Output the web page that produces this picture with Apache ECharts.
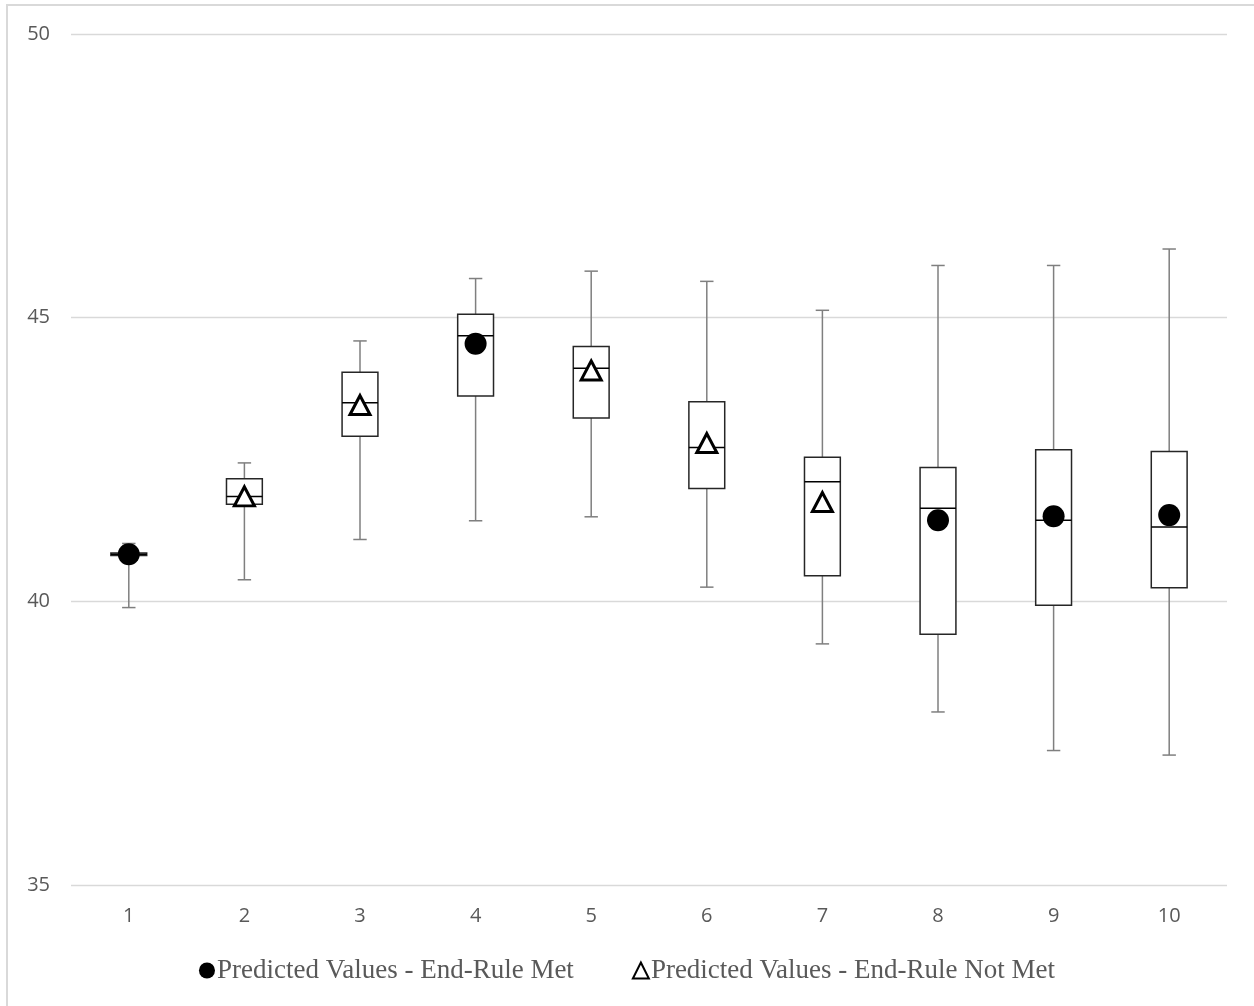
<!DOCTYPE html>
<html>
<head>
<meta charset="utf-8">
<script src="https://cdn.jsdelivr.net/npm/echarts@6/dist/echarts.min.js"></script>
<style>
  html, body { margin: 0; padding: 0; background: #fff; }
  #chart { width: 1254px; height: 1006px; }
</style>
</head>
<body>
<div id="chart"></div>
<script>
// Categories along the x axis
const categories = ['1', '2', '3', '4', '5', '6', '7', '8', '9', '10'];

// Box-and-whisker statistics per category
const whiskerLow  = [39.89, 40.38, 41.09, 41.42, 41.49, 40.25, 39.25, 38.05, 37.37, 37.29];
const quartile1   = [40.81, 41.71, 42.91, 43.62, 43.23, 41.99, 40.45, 39.42, 39.93, 40.24];
const medians     = [40.83, 41.85, 43.50, 44.68, 44.11, 42.71, 42.11, 41.64, 41.43, 41.31];
const quartile3   = [40.85, 42.16, 44.04, 45.06, 44.49, 43.52, 42.54, 42.36, 42.67, 42.64];
const whiskerHigh = [41.02, 42.44, 44.59, 45.69, 45.82, 45.64, 45.13, 45.92, 45.92, 46.21];

// Predicted values, split by whether the end-rule was met
const predictedMet    = [40.83, null, null, 44.54, null, null, null, 41.43, 41.50, 41.52];
const predictedNotMet = [null, 41.85, 43.46, null, 44.07, 42.79, 41.75, null, null, null];

// Y axis ticks
const yTicks = { min: 35, max: 50, interval: 5 };

const seriesMetName = 'Predicted Values - End-Rule Met';
const seriesNotMetName = 'Predicted Values - End-Rule Not Met';

const boxData = categories.map((c, i) => [i, whiskerLow[i], quartile1[i], medians[i], quartile3[i], whiskerHigh[i]]);

function renderBox(params, api) {
  const i = api.value(0);
  const pLow = api.coord([i, api.value(1)]);
  const pQ1 = api.coord([i, api.value(2)]);
  const pMed = api.coord([i, api.value(3)]);
  const pQ3 = api.coord([i, api.value(4)]);
  const pHigh = api.coord([i, api.value(5)]);
  const band = api.size([1, 0])[0];
  const halfBox = band * 0.155;
  const halfCap = band * 0.058;
  const x = pMed[0];
  const whiskerStyle = { stroke: '#7f7f7f', lineWidth: 1.5 };
  const boxStyle = { stroke: '#262626', lineWidth: 1.5, fill: '#fff' };
  return {
    type: 'group',
    children: [
      { type: 'line', shape: { x1: x, y1: pHigh[1], x2: x, y2: pQ3[1] }, style: whiskerStyle },
      { type: 'line', shape: { x1: x, y1: pQ1[1], x2: x, y2: pLow[1] }, style: whiskerStyle },
      { type: 'line', shape: { x1: x - halfCap, y1: pHigh[1], x2: x + halfCap, y2: pHigh[1] }, style: whiskerStyle },
      { type: 'line', shape: { x1: x - halfCap, y1: pLow[1], x2: x + halfCap, y2: pLow[1] }, style: whiskerStyle },
      { type: 'rect', shape: { x: x - halfBox, y: pQ3[1], width: halfBox * 2, height: pQ1[1] - pQ3[1] }, style: boxStyle },
      { type: 'line', shape: { x1: x - halfBox, y1: pMed[1], x2: x + halfBox, y2: pMed[1] }, style: { stroke: '#000', lineWidth: 1.5 } }
    ]
  };
}

const chart = echarts.init(document.getElementById('chart'), null, { renderer: 'canvas' });

chart.setOption({
  backgroundColor: '#fff',
  animation: false,
  graphic: [{
    type: 'rect',
    shape: { x: 7, y: 5, width: 1300, height: 1100 },
    style: { fill: 'none', stroke: '#d9d9d9', lineWidth: 2 },
    silent: true,
    z: -10
  }],
  grid: { left: 71, right: 27, top: 34, bottom: 121 },
  xAxis: {
    type: 'category',
    data: categories,
    axisLine: { show: false },
    axisTick: { show: false },
    axisLabel: { color: '#595959', fontFamily: 'Open Sans', fontSize: 20, margin: 21 },
    splitLine: { show: false }
  },
  yAxis: {
    type: 'value',
    min: yTicks.min,
    max: yTicks.max,
    interval: yTicks.interval,
    axisLine: { show: false },
    axisTick: { show: false },
    axisLabel: { color: '#595959', fontFamily: 'Open Sans', fontSize: 20, margin: 21, padding: [2, 0, 0, 0] },
    splitLine: { lineStyle: { color: '#d9d9d9', width: 1.3 } }
  },
  legend: {
    data: [seriesMetName, seriesNotMetName],
    bottom: 17,
    left: 'center',
    itemGap: 58,
    itemWidth: 16,
    itemHeight: 16,
    textStyle: { fontFamily: 'Liberation Serif', fontSize: 27, color: '#595959', padding: [0, 0, 0, -3] }
  },
  series: [
    {
      type: 'custom',
      name: 'box',
      data: boxData,
      renderItem: renderBox,
      encode: { x: 0, y: [1, 2, 3, 4, 5] },
      z: 2
    },
    {
      type: 'scatter',
      name: seriesMetName,
      data: predictedMet.map((v, i) => [i, v]),
      symbol: 'circle',
      symbolSize: 22,
      itemStyle: { color: '#000', opacity: 1 },
      z: 5
    },
    {
      type: 'scatter',
      name: seriesNotMetName,
      data: predictedNotMet.map((v, i) => [i, v]),
      symbol: 'triangle',
      symbolSize: [20, 19],
      itemStyle: { color: '#fff', borderColor: '#000', borderWidth: 3, opacity: 1 },
      z: 5
    }
  ]
});
</script>
</body>
</html>
